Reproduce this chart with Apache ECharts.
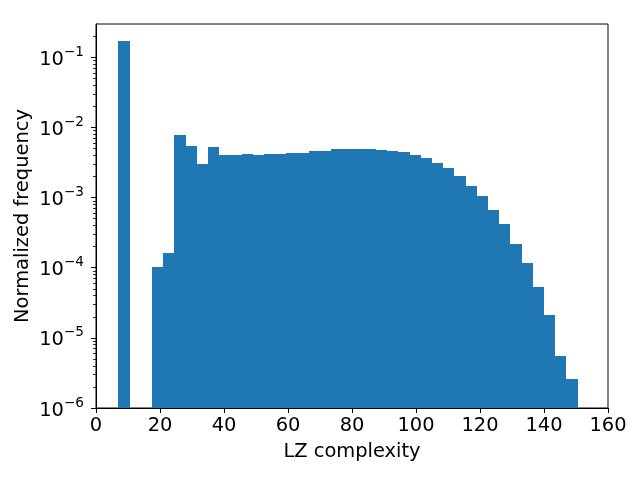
<!DOCTYPE html>
<html>
<head>
<meta charset="utf-8">
<script src="https://cdn.jsdelivr.net/npm/echarts@6/dist/echarts.min.js"></script>
<style>html,body{margin:0;padding:0;background:#fff;}#c{width:640px;height:480px;}</style>
</head>
<body>
<div id="c"></div>
<script>
// Histogram bins: start, width, normalized frequency per bin
const binStart = 7;
const binWidth = 3.5;
const frequencies = [
  0.169, 0, 0, 1.03e-4, 1.64e-4, 7.7e-3, 5.5e-3, 3.06e-3, 5.18e-3, 4.11e-3,
  4.11e-3, 4.25e-3, 4.11e-3, 4.25e-3, 4.25e-3, 4.39e-3, 4.39e-3, 4.69e-3, 4.69e-3, 5.0e-3,
  5.0e-3, 5.0e-3, 5.0e-3, 4.85e-3, 4.69e-3, 4.54e-3, 4.11e-3, 3.73e-3, 3.16e-3, 2.6e-3,
  2.06e-3, 1.48e-3, 1.07e-3, 6.74e-4, 4.25e-4, 2.2e-4, 1.18e-4, 5.35e-5, 2.13e-5, 5.53e-6,
  2.6e-6
];
const xTicks = [0, 20, 40, 60, 80, 100, 120, 140, 160];
const yMajorTicks = [1e-6, 1e-5, 1e-4, 1e-3, 1e-2, 1e-1];
const yMin = 1e-6, yMax = 0.2987;

const yMinorTicks = [];
for (let e = -6; e <= -1; e++) {
  for (let m = 2; m <= 9; m++) {
    const v = m * Math.pow(10, e);
    if (v < yMax) yMinorTicks.push(v);
  }
}

const data = [];
frequencies.forEach((f, i) => {
  if (f > 0) data.push([binStart + i * binWidth, binStart + (i + 1) * binWidth, f]);
});

const FONT = 'DejaVu Sans';
const FS = 19.44;
const chart = echarts.init(document.getElementById('c'), null, {renderer: 'canvas'});
chart.setOption({
  animation: false,
  backgroundColor: '#fff',
  grid: {left: 96, right: 32, top: 24, bottom: 72, show: true, borderColor: '#000', borderWidth: 1, backgroundColor: 'transparent'},
  xAxis: {
    type: 'value', min: 0, max: 160, interval: 20,
    name: 'LZ complexity', nameLocation: 'middle', nameGap: 34,
    nameTextStyle: {fontFamily: FONT, fontSize: FS, color: '#000'},
    axisLine: {show: true, lineStyle: {color: '#000', width: 1}},
    axisTick: {show: true, length: 5, customValues: xTicks, lineStyle: {color: '#000', width: 1}},
    axisLabel: {customValues: xTicks, fontFamily: FONT, fontSize: FS, color: '#000', margin: 8},
    splitLine: {show: false}
  },
  yAxis: [{
    type: 'log', logBase: 10, min: yMin, max: yMax,
    name: 'Normalized frequency', nameLocation: 'middle', nameGap: 64, nameMoveOverlap: false,
    nameTextStyle: {fontFamily: FONT, fontSize: FS, color: '#000'},
    axisLine: {show: true, lineStyle: {color: '#000', width: 1}},
    axisTick: {show: true, length: 5, customValues: yMajorTicks, lineStyle: {color: '#000', width: 1}},
    axisLabel: {
      customValues: yMajorTicks, margin: 12,
      formatter: function (v) {
        const e = Math.round(Math.log10(v));
        return '{b|10}{s|' + (e < 0 ? '\u2212' : '') + Math.abs(e) + '}';
      },
      rich: {
        b: {fontFamily: FONT, fontSize: FS, color: '#000', lineHeight: 24, verticalAlign: 'bottom'},
        s: {fontFamily: FONT, fontSize: 13.6, color: '#000', lineHeight: 24, verticalAlign: 'top'}
      }
    },
    splitLine: {show: false},
    minorTick: {show: false}
  }, {
    type: 'log', logBase: 10, min: yMin, max: yMax, position: 'left',
    axisLine: {show: false},
    axisTick: {show: true, length: 3, customValues: yMinorTicks, lineStyle: {color: '#000', width: 0.8}},
    axisLabel: {show: false},
    splitLine: {show: false}
  }],
  series: [{
    type: 'custom',
    yAxisIndex: 0,
    renderItem: function (params, api) {
      const p0 = api.coord([api.value(0), api.value(2)]);
      const p1 = api.coord([api.value(1), yMin]);
      const x0 = Math.round(p0[0]), x1 = Math.round(p1[0]);
      const y0 = Math.round(p0[1]), y1 = Math.round(p1[1]);
      return {
        type: 'rect',
        shape: {x: x0, y: y0, width: x1 - x0, height: y1 - y0},
        style: {fill: '#1f77b4'}
      };
    },
    encode: {x: [0, 1], y: 2},
    data: data,
    clip: true
  }]
});
</script>
</body>
</html>
